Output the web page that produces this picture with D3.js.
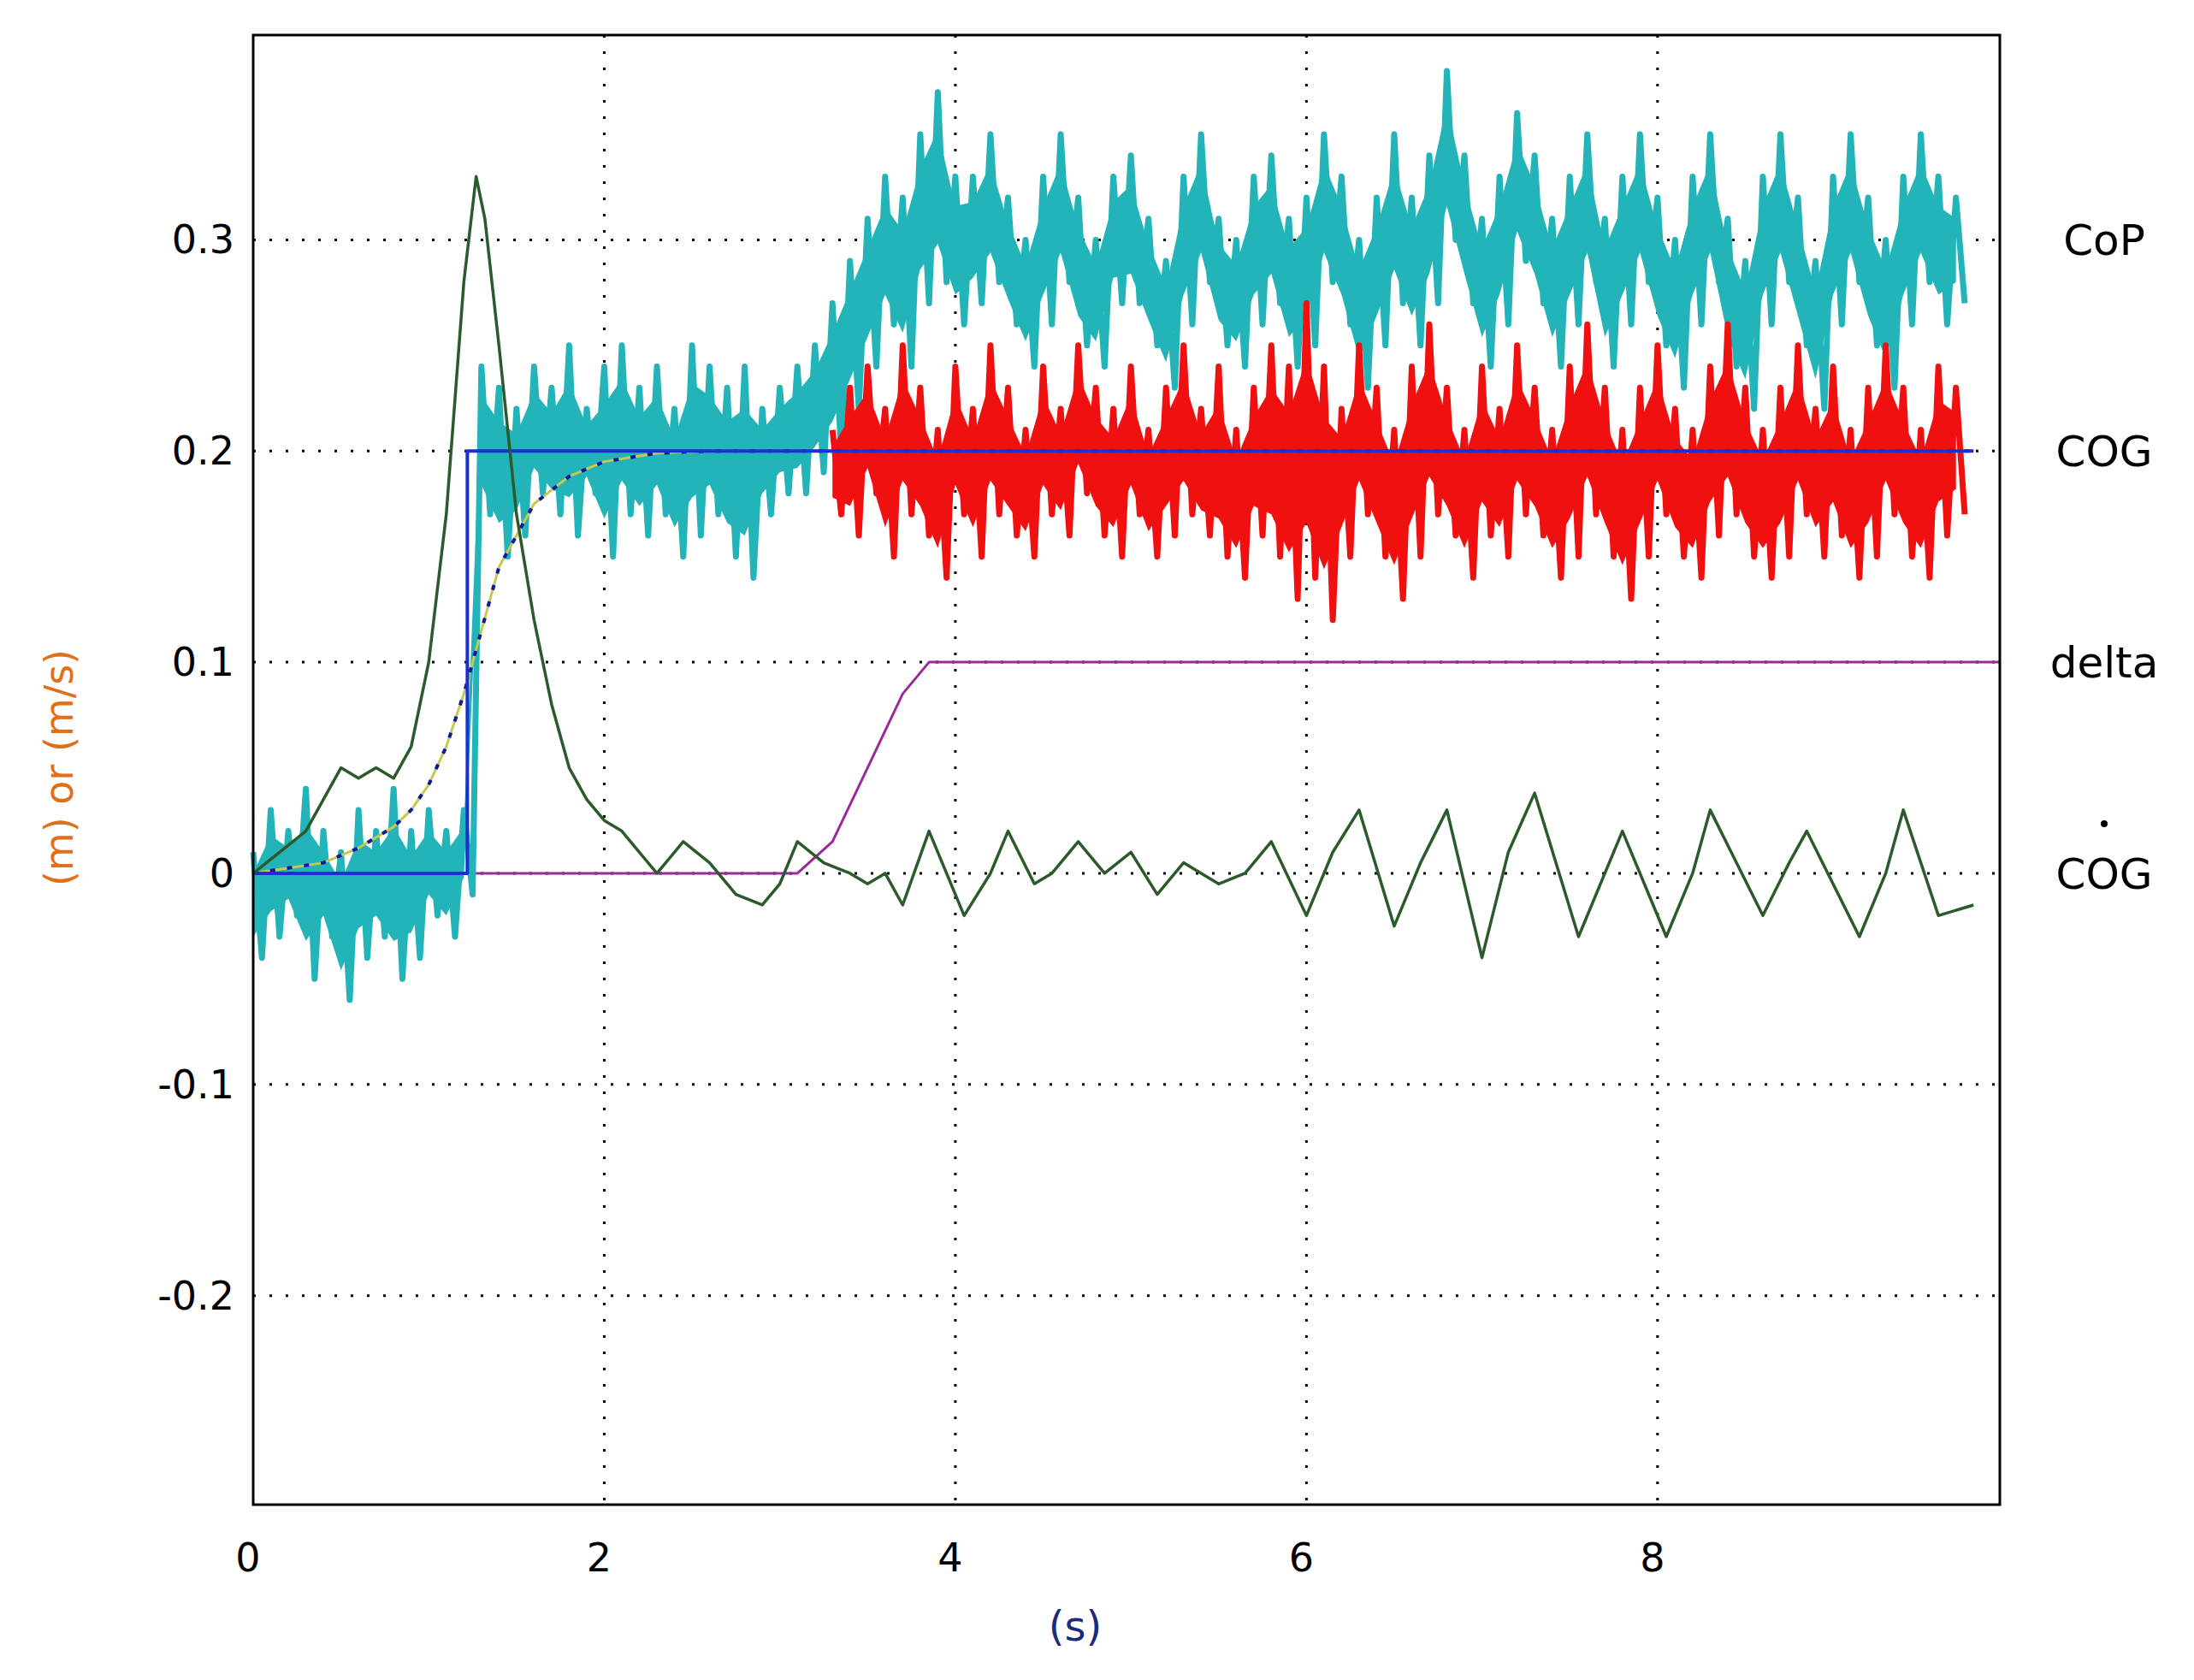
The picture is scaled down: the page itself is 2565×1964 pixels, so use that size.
<!DOCTYPE html>
<html><head><meta charset="utf-8">
<script src="https://cdn.jsdelivr.net/npm/d3@7"></script>
<style>body{margin:0;background:#fff}text{font-family:"DejaVu Sans",sans-serif}</style>
</head><body>
<script>
// ---- data ----
const xTicks = [0, 2, 4, 6, 8]
const yTicks = [-0.2, -0.1, 0, 0.1, 0.2, 0.3]
const yTickLabels = ['-0.2', '-0.1', '0', '0.1', '0.2', '0.3']

// COG velocity (dark green)
const velT = [0,0.15,0.3,0.4,0.5,0.6,0.7,0.8,0.9,1.0,1.1,1.2,1.27,1.32,1.4,1.5,1.6,1.7,1.8,1.9,2.0,2.1,2.2,2.3,2.45,2.6,2.75,2.9,3.0,3.1,3.25,3.4,3.5,3.6,3.7,3.85,4.0,4.05,4.2,4.3,4.45,4.55,4.7,4.85,5.0,5.15,5.3,5.5,5.65,5.8,6.0,6.15,6.3,6.5,6.65,6.8,7.0,7.15,7.3,7.55,7.7,7.8,8.05,8.2,8.3,8.6,8.75,8.85,9.15,9.3,9.4,9.6,9.8]
const velV = [0,0.01,0.02,0.035,0.05,0.045,0.05,0.045,0.06,0.1,0.17,0.28,0.33,0.31,0.25,0.17,0.12,0.08,0.05,0.035,0.025,0.02,0.01,0.0,0.015,0.005,-0.01,-0.015,-0.005,0.015,0.005,0.0,-0.005,0.0,-0.015,0.02,-0.01,-0.02,0.0,0.02,-0.005,0.0,0.015,0.0,0.01,-0.01,0.005,-0.005,0.0,0.015,-0.02,0.01,0.03,-0.025,0.005,0.03,-0.04,0.01,0.038,-0.03,0.0,0.02,-0.03,0.0,0.03,-0.02,0.005,0.02,-0.03,0.0,0.03,-0.02,-0.015]

// COG reference (blue step) and estimated COG (olive / dark blue dotted)
const refT = [0, 1.22, 1.22, 9.8]
const refV = [0, 0, 0.2, 0.2]
const estT = [0,0.4,0.6,0.8,0.9,1.0,1.1,1.2,1.3,1.4,1.5,1.6,1.8,2.0,2.3,2.6,3.0,9.8]
const estV = [0,0.005,0.012,0.022,0.03,0.042,0.06,0.085,0.115,0.145,0.16,0.175,0.188,0.195,0.199,0.2,0.2,0.2]

// delta (purple)
const deltaT = [0, 3.1, 3.3, 3.5, 3.7, 3.85, 9.95]
const deltaV = [0, 0, 0.015, 0.05, 0.085, 0.1, 0.1]

// CoP (cyan) high / low per 0.1 s starting at 0
const copHi = [0.01,0.03,0.02,0.04,0.02,0.01,0.03,0.02,0.04,0.02,0.03,0.02,0.03,
  0.24,0.23,0.22,0.24,0.23,0.25,0.22,0.24,0.25,0.23,0.24,0.22,0.25,0.24,0.23,0.24,0.22,0.23,
  0.24,0.25,0.27,0.29,0.31,0.33,0.32,0.35,0.37,0.33,
  0.33,0.35,0.32,0.30,0.33,0.35,0.32,0.30,0.33,0.34,0.31,0.29,0.33,0.35,0.31,0.30,0.33,0.34,0.31,0.32,
  0.35,0.33,0.30,0.32,0.35,0.32,0.34,0.38,0.34,0.31,0.33,0.36,0.34,0.31,0.33,0.35,0.31,0.33,0.35,0.32,
  0.30,0.33,0.35,0.31,0.29,0.33,0.35,0.32,0.29,0.33,0.35,0.32,0.30,0.33,0.35,0.33,0.32]
const copLo = [-0.04,-0.03,-0.02,-0.05,-0.03,-0.06,-0.04,-0.03,-0.05,-0.04,-0.02,-0.03,-0.01,
  0.17,0.15,0.16,0.18,0.17,0.16,0.18,0.15,0.17,0.16,0.17,0.15,0.16,0.17,0.15,0.14,0.17,0.18,
  0.18,0.19,0.2,0.22,0.24,0.26,0.24,0.27,0.28,0.26,
  0.27,0.28,0.26,0.24,0.26,0.28,0.25,0.24,0.27,0.27,0.25,0.23,0.26,0.28,0.25,0.24,0.26,0.27,0.24,0.25,
  0.28,0.26,0.23,0.25,0.27,0.25,0.27,0.3,0.27,0.24,0.26,0.29,0.27,0.24,0.26,0.28,0.24,0.26,0.28,0.25,
  0.23,0.26,0.28,0.24,0.22,0.26,0.28,0.25,0.22,0.26,0.28,0.25,0.23,0.26,0.28,0.26,0.27]

// COG measured (red) high / low per 0.1 s starting at 3.3
const cogHi = [0.21,0.23,0.24,0.22,0.25,0.23,0.21,0.24,0.22,0.25,0.23,0.21,0.24,0.22,0.25,0.23,0.22,0.24,0.21,0.23,
  0.25,0.22,0.24,0.21,0.23,0.25,0.24,0.27,0.24,0.22,0.25,0.23,0.21,0.24,0.26,0.23,0.21,0.24,0.22,0.25,
  0.23,0.21,0.24,0.26,0.23,0.21,0.23,0.25,0.22,0.21,0.24,0.26,0.23,0.21,0.23,0.25,0.22,0.24,0.21,0.23,
  0.25,0.23,0.21,0.24,0.23]
const cogLo = [0.17,0.16,0.18,0.15,0.17,0.16,0.14,0.17,0.15,0.17,0.16,0.15,0.17,0.16,0.18,0.16,0.15,0.17,0.15,0.16,
  0.17,0.16,0.15,0.14,0.16,0.15,0.13,0.14,0.12,0.15,0.17,0.15,0.13,0.15,0.17,0.16,0.14,0.16,0.15,0.17,
  0.16,0.14,0.15,0.17,0.15,0.13,0.15,0.17,0.15,0.14,0.16,0.17,0.15,0.14,0.15,0.17,0.15,0.16,0.14,0.15,
  0.17,0.15,0.14,0.16,0.17]

const rightLabels = [{v: 0.3, t: 'CoP'}, {v: 0.2, t: 'COG'}, {v: 0.1, t: 'delta'}, {v: 0, t: 'COG', dot: true}]

// ---- layout ----
const W = 2565, H = 1964
const margin = {top: 41, right: 227, bottom: 205, left: 296}

const svg = d3.select('body').append('svg').attr('width', W).attr('height', H)

const x = d3.scaleLinear().domain([0, 9.95]).range([margin.left, W - margin.right])
const y = d3.scaleLinear().domain([-0.299, 0.397]).range([H - margin.bottom, margin.top])

const line = d3.line().x(d => x(d[0])).y(d => y(d[1]))
const zip = (ts, vs) => ts.map((t, i) => [t, vs[i]])
const zigzag = (t0, hi, lo) => hi.flatMap((h, i) => [[t0 + i * 0.1, h], [t0 + i * 0.1 + 0.05, lo[i]]])

// band between high/low readings, so the noisy trace reads as a solid ribbon
const band = (t0, hi, lo, color) => {
	const mid = hi.map((h, i) => [t0 + i * 0.1, h, lo[i]])
	svg.append('path').datum(mid)
	.attr('d', d3.area().x(d => x(d[0])).y0(d => y(d[2] + (d[1] - d[2]) * 0.2)).y1(d => y(d[1] - (d[1] - d[2]) * 0.2)))
	.attr('fill', color)
}

//====================GRID===================
const grid = svg.append('g').attr('stroke', '#000').attr('stroke-width', 3).attr('stroke-dasharray', '3,16')
grid.selectAll('.gx').data(xTicks.slice(1)).enter().append('line')
.attr('x1', d => x(d)).attr('x2', d => x(d)).attr('y1', y.range()[1]).attr('y2', y.range()[0])
grid.selectAll('.gy').data(yTicks).enter().append('line')
.attr('x1', x.range()[0]).attr('x2', x.range()[1]).attr('y1', d => y(d)).attr('y2', d => y(d))

//====================SERIES===================
const addLine = (data, color, w, extra) => {
	const p = svg.append('path').datum(data).attr('d', line)
	.attr('fill', 'none').attr('stroke', color).attr('stroke-width', w).attr('stroke-linejoin', 'round')
	if (extra) extra(p)
}

addLine(zip(deltaT, deltaV), '#9a2a9a', 3)
band(0, copHi, copLo, '#22b4b8')
addLine(zigzag(0, copHi, copLo), '#22b4b8', 7)
band(3.3, cogHi, cogLo, '#f01010')
addLine(zigzag(3.3, cogHi, cogLo), '#f01010', 7)
addLine(zip(estT, estV), '#c8c850', 3)
addLine(zip(estT, estV), '#0a1aa0', 4, p => p.attr('stroke-dasharray', '6,14'))
addLine(zip(refT, refV), '#1a30d0', 4)
addLine(zip(velT, velV), '#2d5a2d', 3.5)

//====================AXES===================
svg.append('rect').attr('x', x.range()[0]).attr('y', y.range()[1])
.attr('width', x.range()[1] - x.range()[0]).attr('height', y.range()[0] - y.range()[1])
.attr('fill', 'none').attr('stroke', '#000').attr('stroke-width', 3)

svg.selectAll('.xt').data(xTicks).enter().append('text')
.attr('x', d => x(d) - 6).attr('y', y.range()[0] + 78)
.attr('text-anchor', 'middle').attr('font-size', 46).text(d => d)

svg.selectAll('.yt').data(yTicks).enter().append('text')
.attr('x', x.range()[0] - 22).attr('y', d => y(d) + 16)
.attr('text-anchor', 'end').attr('font-size', 46).text((d, i) => yTickLabels[i])

svg.append('text').attr('x', 1257).attr('y', 1918).attr('text-anchor', 'middle')
.attr('font-size', 48).attr('fill', '#1a2a80').text('(s)')

svg.append('text').attr('transform', `translate(85,${y(0.05)}) rotate(-90)`)
.attr('text-anchor', 'middle').attr('font-size', 46).attr('fill', '#e07018').text('(m) or (m/s)')

svg.selectAll('.rl').data(rightLabels).enter().append('text')
.attr('x', 2460).attr('y', d => y(d.v) + 18)
.attr('text-anchor', 'middle').attr('font-size', 50).text(d => d.t)
svg.append('circle').attr('cx', 2460).attr('cy', y(0) - 58).attr('r', 4).attr('fill', '#000')
</script>
</body></html>
